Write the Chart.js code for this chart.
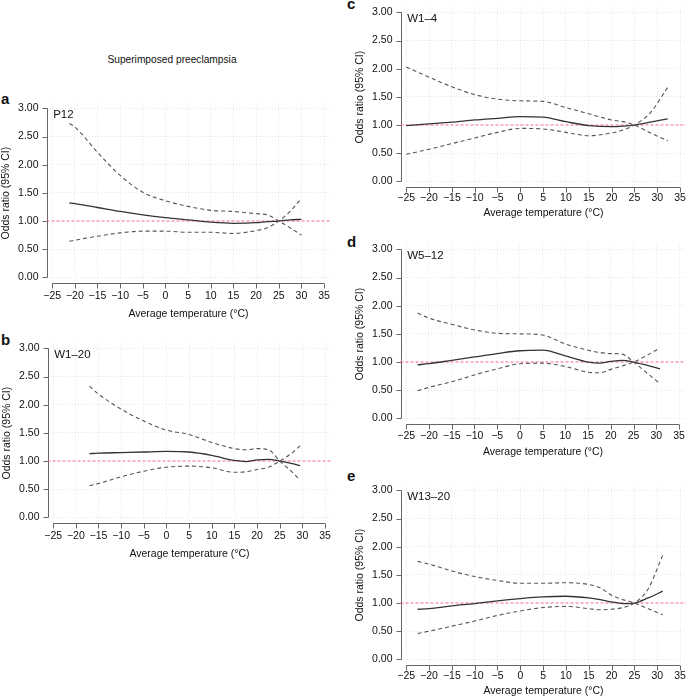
<!DOCTYPE html>
<html>
<head>
<meta charset="utf-8">
<script src="https://cdn.jsdelivr.net/npm/chart.js@4/dist/chart.umd.min.js"></script>
<style>
  html, body { margin: 0; padding: 0; background: #fff; }
  body { width: 686px; height: 698px; position: relative; overflow: hidden;
         font-family: "Liberation Sans", Arial, sans-serif; color: #111; }
  .panel { position: absolute; }
  .letter { position: absolute; font-weight: bold; font-size: 15px; line-height: 15px; color: #111; }
  #mainTitle { position: absolute; left: 72px; width: 200px; top: 54px; text-align: center;
               font-size: 10.2px; line-height: 12px; color: #111; }
</style>
</head>
<body>
<div id="mainTitle">Superimposed preeclampsia</div>
<div class="letter" style="left:1px;top:91px">a</div>
<div class="letter" style="left:1px;top:332px">b</div>
<div class="letter" style="left:347px;top:-4px">c</div>
<div class="letter" style="left:347px;top:234px">d</div>
<div class="letter" style="left:347px;top:468px">e</div>

<div class="panel" id="pa"><canvas id="chartA"></canvas></div>
<div class="panel" id="pb"><canvas id="chartB"></canvas></div>
<div class="panel" id="pc"><canvas id="chartC"></canvas></div>
<div class="panel" id="pd"><canvas id="chartD"></canvas></div>
<div class="panel" id="pe"><canvas id="chartE"></canvas></div>

<script>
// tick labels
const xTicks = [-25, -20, -15, -10, -5, 0, 5, 10, 15, 20, 25, 30, 35];
const yTicks = [0, 0.5, 1, 1.5, 2, 2.5, 3];
const refValue = 1;

// a: P12
const aTemp  = [-21.2, -20, -15, -10, -5, 0, 5, 10, 15, 20, 22.5, 25, 27.5, 30];
const aEst   = [1.32, 1.31, 1.24, 1.17, 1.11, 1.06, 1.02, 0.98, 0.96, 0.97, 0.99, 1.00, 1.02, 1.03];
const aUpper = [2.73, 2.67, 2.22, 1.81, 1.51, 1.36, 1.26, 1.19, 1.17, 1.13, 1.11, 1.00, 0.88, 0.75];
const aLower = [0.64, 0.66, 0.73, 0.79, 0.82, 0.82, 0.80, 0.80, 0.78, 0.83, 0.88, 1.00, 1.17, 1.40];

// b: W1–20
const bTemp  = [-17, -15, -10, -5, 0, 5, 10, 15, 17.5, 20, 22.5, 25, 27.5, 29.5];
const bEst   = [1.13, 1.14, 1.15, 1.16, 1.17, 1.16, 1.10, 1.01, 0.99, 1.02, 1.03, 1.00, 0.96, 0.92];
const bUpper = [2.33, 2.19, 1.92, 1.71, 1.55, 1.47, 1.33, 1.22, 1.20, 1.22, 1.20, 1.00, 0.82, 0.66];
const bLower = [0.56, 0.60, 0.72, 0.82, 0.89, 0.91, 0.88, 0.80, 0.81, 0.85, 0.89, 1.00, 1.13, 1.27];

// c: W1–4
const cTemp  = [-25, -20, -15, -10, -5, 0, 5, 10, 15, 20, 22.5, 25, 28.5, 32.3];
const cEst   = [0.99, 1.02, 1.05, 1.09, 1.12, 1.15, 1.14, 1.06, 0.99, 0.97, 0.98, 1.00, 1.05, 1.11];
const cUpper = [2.03, 1.85, 1.68, 1.54, 1.46, 1.43, 1.42, 1.31, 1.20, 1.09, 1.06, 1.00, 0.86, 0.72];
const cLower = [0.48, 0.57, 0.67, 0.77, 0.87, 0.94, 0.93, 0.87, 0.81, 0.86, 0.91, 1.00, 1.22, 1.67];

// d: W5–12
const dTemp  = [-22.5, -20, -15, -10, -5, 0, 5, 10, 15, 17.5, 20, 22.5, 25, 28, 30.8];
const dEst   = [0.95, 0.97, 1.03, 1.09, 1.15, 1.20, 1.21, 1.11, 1.00, 0.98, 1.01, 1.03, 1.00, 0.94, 0.88];
const dUpper = [1.87, 1.78, 1.67, 1.57, 1.51, 1.50, 1.48, 1.32, 1.21, 1.17, 1.15, 1.14, 1.00, 0.80, 0.62];
const dLower = [0.49, 0.55, 0.65, 0.77, 0.88, 0.97, 0.98, 0.92, 0.82, 0.81, 0.87, 0.93, 1.00, 1.12, 1.25];

// e: W13–20
const eTemp  = [-22.5, -20, -15, -10, -5, 0, 5, 10, 15, 17.5, 20, 22.5, 25, 28, 31.2];
const eEst   = [0.89, 0.90, 0.95, 0.99, 1.04, 1.08, 1.11, 1.12, 1.09, 1.06, 1.02, 0.99, 1.00, 1.09, 1.21];
const eUpper = [1.74, 1.69, 1.57, 1.47, 1.40, 1.35, 1.35, 1.36, 1.33, 1.27, 1.14, 1.06, 1.00, 0.90, 0.79];
const eLower = [0.46, 0.50, 0.59, 0.68, 0.78, 0.86, 0.92, 0.94, 0.90, 0.88, 0.89, 0.92, 1.00, 1.25, 1.85];

Chart.defaults.font.family = '"Liberation Sans", Arial, sans-serif';
Chart.defaults.font.size = 10.5;
Chart.defaults.color = '#111';

const PLOT_W = 287, PLOT_H = 182, PAD_TOP = 12, PAD_RIGHT = 4;

// R-style axes: line only from first to last tick, ticks outside
const baseAxes = {
  id: 'baseAxes',
  beforeDatasetsDraw(chart) {
    const { ctx, chartArea, scales: { x, y } } = chart;
    ctx.save();
    ctx.lineWidth = 1;
    ctx.strokeStyle = '#666';
    const xb = Math.round(chartArea.bottom) + 0.5;
    ctx.beginPath();
    ctx.moveTo(x.getPixelForValue(xTicks[0]), xb);
    ctx.lineTo(x.getPixelForValue(xTicks[xTicks.length - 1]), xb);
    xTicks.forEach(v => {
      const px = Math.round(x.getPixelForValue(v)) + 0.5;
      ctx.moveTo(px, xb);
      ctx.lineTo(px, xb + 5);
    });
    const yl = Math.round(chartArea.left) + 0.5;
    ctx.moveTo(yl, y.getPixelForValue(yTicks[0]));
    ctx.lineTo(yl, y.getPixelForValue(yTicks[yTicks.length - 1]));
    yTicks.forEach(v => {
      const py = Math.round(y.getPixelForValue(v)) + 0.5;
      ctx.moveTo(yl, py);
      ctx.lineTo(yl - 5, py);
    });
    ctx.stroke();

    // pink reference line at OR = 1 (spread over two rows so the pink survives)
    ctx.strokeStyle = '#f5679f';
    ctx.lineWidth = 1.2;
    ctx.setLineDash([3, 2]);
    const yr = Math.round(y.getPixelForValue(refValue));
    ctx.beginPath();
    ctx.moveTo(chartArea.left, yr);
    ctx.lineTo(chartArea.right, yr);
    ctx.stroke();
    ctx.restore();
  },
  afterDraw(chart, args, opts) {
    const { ctx, scales: { x, y } } = chart;
    ctx.save();
    ctx.fillStyle = '#111';
    ctx.font = '11.5px "Liberation Sans", Arial, sans-serif';
    ctx.textBaseline = 'alphabetic';
    ctx.fillText(opts.name, x.getPixelForValue(xTicks[0]) + 1, y.getPixelForValue(yTicks[yTicks.length - 1]) + 9.5);
    ctx.restore();
  }
};

function makePanel(divId, canvasId, left, top, yw, xh, tickPad, name, temps, est, upper, lower) {
  const div = document.getElementById(divId);
  const w = yw + PLOT_W + PAD_RIGHT, h = PAD_TOP + PLOT_H + xh;
  div.style.left = (left - yw) + 'px';
  div.style.top = (top - PAD_TOP) + 'px';
  const canvas = document.getElementById(canvasId);
  canvas.width = w;
  canvas.height = h;

  const pts = vals => temps.map((t, i) => ({ x: t, y: vals[i] }));
  const dashed = { borderColor: '#555', borderWidth: 1.1, borderDash: [4, 3] };
  // no grey grid line under the pink reference line
  const gridColor = c => (c.tick && Math.abs(c.tick.value - refValue) < 1e-6 ? 'rgba(255,255,255,0)' : '#e6e6e6');

  new Chart(canvas.getContext('2d'), {
    type: 'line',
    data: {
      datasets: [
        Object.assign({ label: 'Upper 95% CI', data: pts(upper) }, dashed),
        Object.assign({ label: 'Lower 95% CI', data: pts(lower) }, dashed),
        { label: 'Odds ratio', data: pts(est), borderColor: '#333', borderWidth: 1.3 }
      ]
    },
    options: {
      responsive: false,
      animation: false,
      devicePixelRatio: 1,
      layout: { padding: { top: PAD_TOP, right: PAD_RIGHT, left: 0, bottom: 0 } },
      elements: {
        point: { radius: 0 },
        line: { tension: 0.4, cubicInterpolationMode: 'monotone', fill: false }
      },
      plugins: {
        legend: { display: false },
        tooltip: { enabled: false },
        baseAxes: { name: name }
      },
      scales: {
        x: {
          type: 'linear',
          min: -26.25,
          max: 36.4,
          afterBuildTicks: s => { s.ticks = xTicks.map(v => ({ value: v })); },
          afterFit: s => { s.height = xh; },
          ticks: {
            padding: tickPad,
            maxRotation: 0,
            callback: v => (v < 0 ? '\u2212' + Math.abs(v) : String(v))
          },
          grid: { color: '#e6e6e6', drawTicks: false },
          border: { display: false, dash: [1, 2] },
          title: { display: true, text: 'Average temperature (°C)', padding: 0 }
        },
        y: {
          min: -0.1,
          max: 3.09,
          afterBuildTicks: s => { s.ticks = yTicks.map(v => ({ value: v })); },
          afterFit: s => { s.width = yw; },
          ticks: { padding: 8, callback: v => v.toFixed(2) },
          grid: { color: gridColor, drawTicks: false },
          border: { display: false, dash: [1, 2] },
          title: { display: true, text: 'Odds ratio (95% CI)', padding: 0 }
        }
      }
    },
    plugins: [baseAxes]
  });
}

makePanel('pa', 'chartA', 46, 101, 46.5, 37, 7, 'P12', aTemp, aEst, aUpper, aLower);
makePanel('pb', 'chartB', 47, 341, 46.5, 37, 7, 'W1\u201320', bTemp, bEst, bUpper, bLower);
makePanel('pc', 'chartC', 400, 5, 46.5, 32, 5, 'W1\u20134', cTemp, cEst, cUpper, cLower);
makePanel('pd', 'chartD', 400, 242, 46.5, 34, 6, 'W5\u201312', dTemp, dEst, dUpper, dLower);
makePanel('pe', 'chartE', 400, 483, 46.5, 32, 5, 'W13\u201320', eTemp, eEst, eUpper, eLower);
</script>
</body>
</html>
